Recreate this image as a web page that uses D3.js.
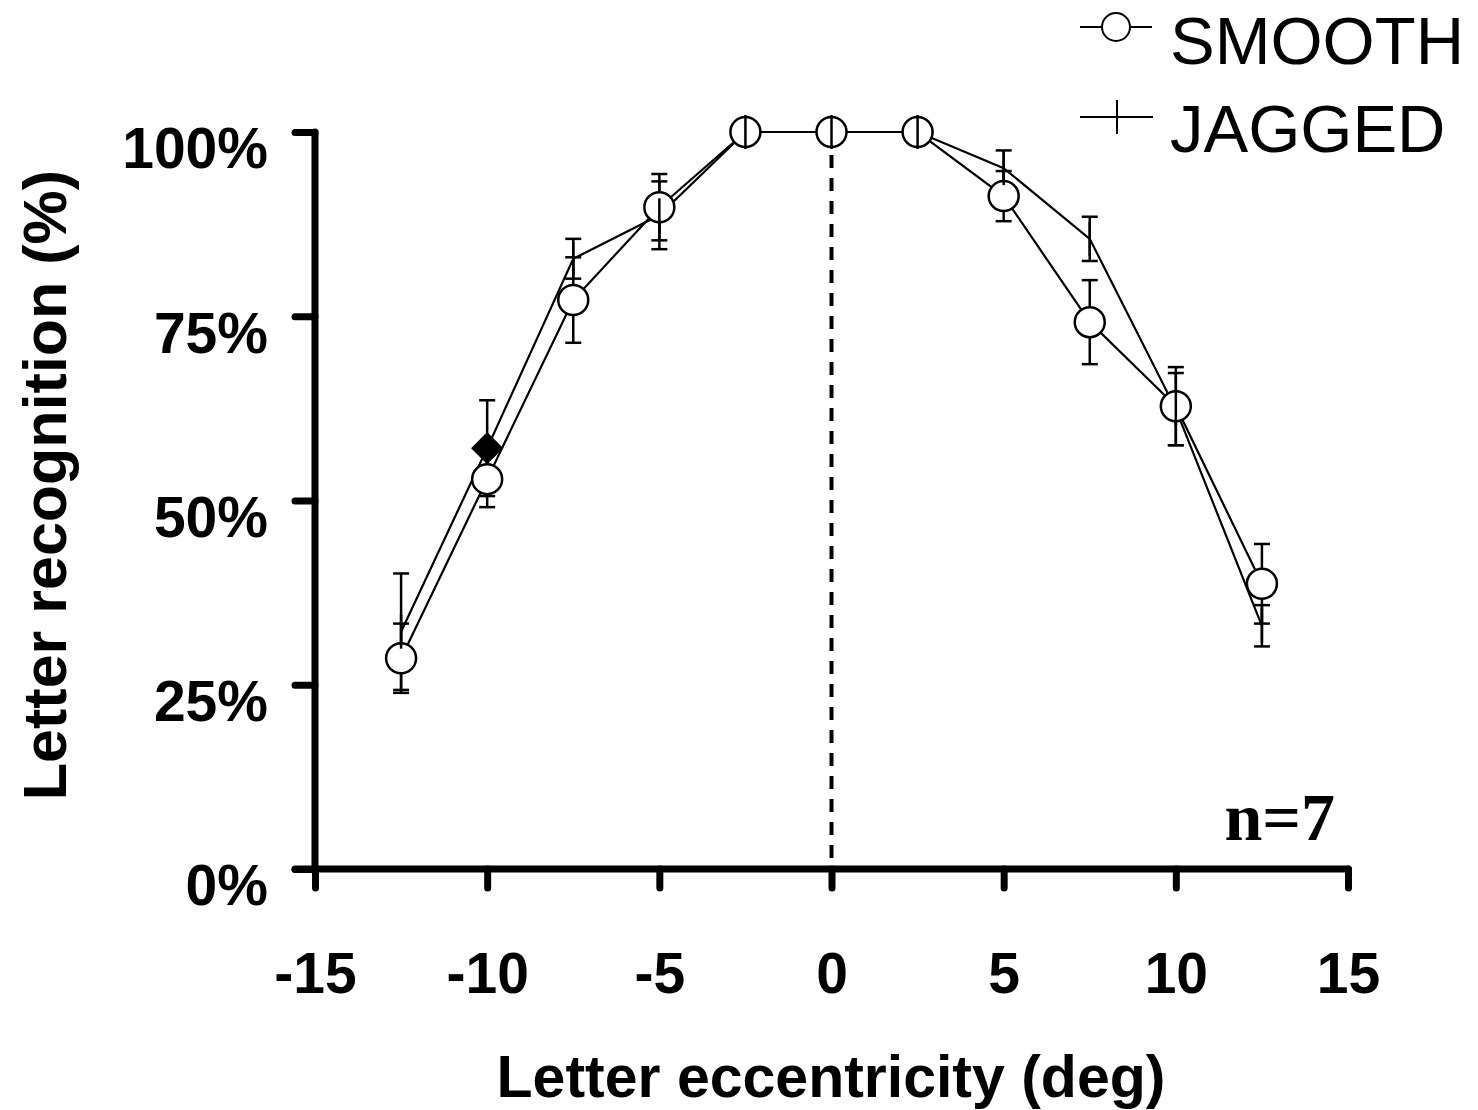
<!DOCTYPE html>
<html>
<head>
<meta charset="utf-8">
<script src="https://cdn.jsdelivr.net/npm/d3@7"></script>
<style>
  html, body { margin: 0; padding: 0; background: #fff; }
  svg { display: block; }
</style>
</head>
<body>
<svg id="chart" width="1478" height="1110"></svg>
<script>
// ---- data ----
const eccentricity = [-12.5, -10, -7.5, -5, -2.5, 0, 2.5, 5, 7.5, 10, 12.5];
const smoothValues = [28.6, 52.9, 77.2, 89.8, 100, 100, 100, 91.3, 74.2, 62.8, 38.7];
const smoothErrors = [4.7, 3.8, 5.8, 4.5, 0, 0, 0, 3.4, 5.7, 5.3, 5.4];
const jaggedValues = [32.2, 57.1, 82.8, 88.7, 100, 100, 100, 95.1, 85.5, 62.4, 33.0];
const jaggedErrors = [7.9, 6.5, 2.7, 4.6, 0, 0, 0, 2.4, 3.0, 4.9, 2.8];
const jaggedMarkers = ["bar", "diamond", "bar", "bar", "bar", "bar", "bar", "bar", "bar", "bar", "bar"];
const xTicks = [-15, -10, -5, 0, 5, 10, 15];
const yTicks = [0, 25, 50, 75, 100];
const seriesNames = ["SMOOTH", "JAGGED"];

const svg = d3.select("#chart");
const x = d3.scaleLinear().domain([-15, 15]).range([315, 1348]);
const y = d3.scaleLinear().domain([0, 100]).range([869, 132]);

const sans = "'Liberation Sans', Arial, sans-serif";

// ---- axes ----
const yAxis = svg.append("g")
  .attr("transform", `translate(${x(-15)},0)`)
  .call(d3.axisLeft(y).tickValues(yTicks).tickSize(20).tickSizeOuter(0).tickFormat(d => d + "%"));
const xAxis = svg.append("g")
  .attr("transform", `translate(0,${y(0)})`)
  .call(d3.axisBottom(x).tickValues(xTicks).tickSize(19).tickSizeOuter(0).tickFormat(d => String(d)));

[yAxis, xAxis].forEach(g => {
  g.select(".domain").attr("stroke", "#000").attr("stroke-width", 7).attr("stroke-linecap", "round");
  g.selectAll(".tick line").attr("stroke", "#000").attr("stroke-width", 7).attr("stroke-linecap", "round");
  g.selectAll(".tick text").attr("fill", "#000")
    .style("font-family", sans).style("font-weight", "bold").style("font-size", "57px");
});
yAxis.selectAll(".tick text").attr("x", -47).attr("dy", "0.63em");
yAxis.select(".domain").attr("d", `M0,${y(100)}V${y(0)}`);
xAxis.select(".domain").attr("d", `M${x(-15) - 20},0H${x(15)}`);
xAxis.selectAll(".tick text").attr("dy", null).attr("y", 124).attr("x", 0);

// ---- dashed zero line ----
svg.append("line")
  .attr("x1", x(0)).attr("x2", x(0))
  .attr("y1", y(100)).attr("y2", y(0))
  .attr("stroke", "#000").attr("stroke-width", 4)
  .attr("stroke-dasharray", "13,10");

// ---- lines ----
const line = d3.line().x(d => x(d[0])).y(d => y(d[1]));
const smoothPts = eccentricity.map((e, i) => [e, smoothValues[i], smoothErrors[i]]);
const jaggedPts = eccentricity.map((e, i) => [e, jaggedValues[i], jaggedErrors[i], jaggedMarkers[i]]);

svg.append("path").datum(smoothPts).attr("d", line)
  .attr("fill", "none").attr("stroke", "#000").attr("stroke-width", 2.2);
svg.append("path").datum(jaggedPts).attr("d", line)
  .attr("fill", "none").attr("stroke", "#000").attr("stroke-width", 2.2);

// ---- error bars ----
function errorBars(pts) {
  const g = svg.append("g").attr("stroke", "#000").attr("stroke-width", 2.5);
  pts.filter(d => d[2] > 0).forEach(d => {
    const cx = x(d[0]), top = y(d[1] + d[2]), bot = y(d[1] - d[2]);
    g.append("line").attr("x1", cx).attr("x2", cx).attr("y1", top).attr("y2", bot);
    g.append("line").attr("x1", cx - 8).attr("x2", cx + 8).attr("y1", top).attr("y2", top);
    g.append("line").attr("x1", cx - 8).attr("x2", cx + 8).attr("y1", bot).attr("y2", bot);
  });
}
errorBars(jaggedPts);
errorBars(smoothPts);

// ---- markers ----
svg.append("g").selectAll("circle").data(smoothPts).join("circle")
  .attr("cx", d => x(d[0])).attr("cy", d => y(d[1])).attr("r", 15)
  .attr("fill", "#fff").attr("stroke", "#000").attr("stroke-width", 2.5);

const jm = svg.append("g");
jaggedPts.forEach(d => {
  const cx = x(d[0]), cy = y(d[1]);
  if (d[3] === "diamond") {
    jm.append("path")
      .attr("d", d3.symbol().type(d3.symbolSquare).size(520)())
      .attr("transform", `translate(${cx},${cy}) rotate(45)`)
      .attr("fill", "#000");
  } else {
    jm.append("line").attr("x1", cx).attr("x2", cx).attr("y1", cy - 17).attr("y2", cy + 17)
      .attr("stroke", "#000").attr("stroke-width", 2.5);
  }
});

// ---- legend ----
const lg = svg.append("g");
lg.append("line").attr("x1", 1080).attr("x2", 1152).attr("y1", 27).attr("y2", 27)
  .attr("stroke", "#000").attr("stroke-width", 1.8);
lg.append("circle").attr("cx", 1116).attr("cy", 27).attr("r", 14)
  .attr("fill", "#fff").attr("stroke", "#000").attr("stroke-width", 2);
lg.append("line").attr("x1", 1080).attr("x2", 1153).attr("y1", 117).attr("y2", 117)
  .attr("stroke", "#000").attr("stroke-width", 1.8);
lg.append("line").attr("x1", 1117).attr("x2", 1117).attr("y1", 100).attr("y2", 134)
  .attr("stroke", "#000").attr("stroke-width", 2);
lg.append("text").attr("x", 1170).attr("y", 64).text(seriesNames[0])
  .style("font-family", sans).style("font-size", "67px").attr("fill", "#000");
lg.append("text").attr("x", 1170).attr("y", 152).text(seriesNames[1])
  .style("font-family", sans).style("font-size", "67px").attr("fill", "#000");

// ---- titles ----
svg.append("text").attr("x", 831).attr("y", 1097).attr("text-anchor", "middle")
  .style("font-family", sans).style("font-weight", "bold").style("font-size", "59px")
  .text("Letter eccentricity (deg)");
svg.append("text").attr("transform", "translate(66,485) rotate(-90)").attr("text-anchor", "middle")
  .style("font-family", sans).style("font-weight", "bold").style("font-size", "61px")
  .text("Letter recognition (%)");
svg.append("text").attr("x", 1335).attr("y", 840).attr("text-anchor", "end")
  .style("font-family", "'Liberation Serif', 'Times New Roman', serif").style("font-weight", "bold").style("font-size", "68px")
  .text("n=7");
</script>
</body>
</html>
